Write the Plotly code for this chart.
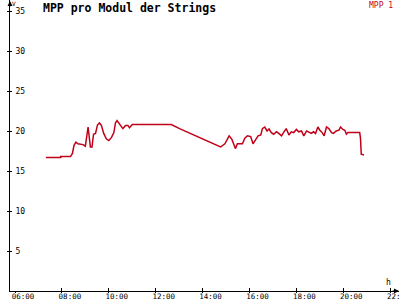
import plotly.graph_objects as go

day = "2024-06-01 "
times = ["07:19", "07:57", "07:57", "08:22", "08:27", "08:31", "08:36", "08:41", "08:54", "09:00",
         "09:07", "09:13", "09:17", "09:21", "09:26", "09:31", "09:36", "09:41", "09:47", "09:54",
         "10:00", "10:07", "10:13", "10:17", "10:21", "10:28", "10:36", "10:43", "10:49", "10:53",
         "11:00", "12:40", "12:53", "13:01", "14:46", "14:57", "15:08", "15:15", "15:24", "15:29",
         "15:42", "15:48", "15:55", "16:03", "16:09", "16:16", "16:22", "16:29", "16:33", "16:39",
         "16:45", "16:50", "16:56", "17:02", "17:09", "17:15", "17:22", "17:27", "17:34", "17:41",
         "17:47", "17:53", "18:00", "18:06", "18:13", "18:19", "18:26", "18:31", "18:38", "18:44",
         "18:49", "18:55", "19:00", "19:06", "19:11", "19:17", "19:23", "19:30", "19:35", "19:42",
         "19:49", "19:53", "19:59", "20:04", "20:08", "20:12", "20:42", "20:44", "20:46", "20:53"]
values = [16.7, 16.7, 16.8, 16.8, 17.2, 18.2, 18.6, 18.4, 18.3, 18.1,
          20.5, 18.0, 18.0, 19.6, 19.7, 20.75, 21.0, 20.7, 19.7, 19.0,
          18.8, 19.2, 19.8, 21.0, 21.3, 20.9, 20.3, 20.7, 20.7, 20.4,
          20.8, 20.8, 20.5, 20.3, 18.0, 18.4, 19.4, 18.95, 17.8, 18.4,
          18.4, 19.1, 19.4, 19.3, 18.4, 18.95, 19.4, 19.5, 20.3, 20.5,
          20.0, 20.25, 19.8, 19.6, 19.9, 19.7, 19.4, 19.8, 20.3, 19.5,
          19.9, 19.8, 20.2, 19.9, 20.0, 19.4, 20.0, 19.9, 19.7, 19.9,
          19.7, 20.5, 20.1, 19.8, 19.4, 20.5, 20.3, 19.8, 19.7, 20.0,
          20.1, 20.5, 20.2, 20.1, 19.6, 19.8, 19.8, 19.1, 17.1, 17.0]
series_name = "MPP 1"
title_text = "MPP pro Modul der Strings"
y_unit = "V"
x_unit = "h"
y_ticks = [5, 10, 15, 20, 25, 30, 35]
x_tick_labels = ["06:00", "08:00", "10:00", "12:00", "14:00", "16:00", "18:00", "20:00", "22:00"]

x = [day + t for t in times]
x_tickvals = [day + t for t in x_tick_labels]
red = "#c00018"
mono = "DejaVu Sans Mono"
x_range = [day + "05:47:13", day + "22:22:34"]
y_range = [0, 36.375]
tf = dict(family=mono, size=8, color="black")

fig = go.Figure()
fig.add_trace(go.Scatter(x=x, y=values, mode="lines", name=series_name,
                         line=dict(color=red, width=1.5), showlegend=False))

fig.update_layout(
    width=400, height=300,
    margin=dict(l=10, r=1, t=0, b=9),
    paper_bgcolor="white", plot_bgcolor="white",
    font=dict(family=mono, size=8, color="black"),
    xaxis=dict(
        type="date", range=x_range, tickvals=x_tickvals, ticktext=x_tick_labels,
        showgrid=False, zeroline=False, showline=True, linecolor="black", linewidth=1,
        ticks="outside", ticklen=1, tickcolor="black", tickwidth=1,
        ticklabelshift=8, ticklabelstandoff=-3, ticklabeloverflow="allow",
        automargin=False, tickfont=dict(family=mono, size=7.5, color="black"),
    ),
    yaxis=dict(
        range=y_range, tickvals=y_ticks,
        showgrid=False, zeroline=False, showline=True, linecolor="black", linewidth=1,
        ticks="outside", ticklen=2, tickcolor="black", tickwidth=1,
        showticklabels=False, automargin=False,
    ),
    xaxis2=dict(
        type="date", range=x_range, tickvals=x_tickvals, overlaying="x",
        showgrid=False, zeroline=False, showline=False, showticklabels=False,
        ticks="inside", ticklen=3, tickcolor="black", tickwidth=1, automargin=False,
    ),
    yaxis2=dict(
        range=y_range, tickvals=y_ticks, overlaying="y",
        showgrid=False, zeroline=False, showline=False,
        ticks="inside", ticklen=2, tickcolor="black", tickwidth=1,
        ticklabelposition="inside", ticklabelstandoff=2, automargin=False,
        tickfont=tf,
    ),
)
# invisible trace to bind the overlay axes
fig.add_trace(go.Scatter(x=x, y=values, mode="lines", xaxis="x2", yaxis="y2",
                         line=dict(width=0), hoverinfo="skip", showlegend=False,
                         opacity=0))

fig.add_annotation(xref="paper", yref="paper", x=0.08, y=1.0, yshift=-8,
                   text="<b>" + title_text + "</b>", showarrow=False,
                   xanchor="left", yanchor="middle",
                   font=dict(family=mono, size=11.5, color="black"))
fig.add_annotation(xref="paper", yref="paper", x=1.0, y=1.0, xshift=-4, yshift=-5,
                   text=series_name, showarrow=False, xanchor="right", yanchor="middle",
                   font=dict(family=mono, size=8, color=red))
fig.add_annotation(xref="paper", yref="paper", x=0, y=1.0, xshift=4, yshift=-3,
                   text=y_unit, showarrow=False, xanchor="center", yanchor="middle",
                   font=dict(family=mono, size=6, color="black"))
fig.add_annotation(xref="paper", yref="paper", x=1.0, y=0, xshift=-11, yshift=9,
                   text=x_unit, showarrow=False, xanchor="center", yanchor="middle",
                   font=dict(family=mono, size=8, color="black"))
# axis arrowheads
fig.add_annotation(xref="paper", yref="paper", x=0, y=1.0, ax=0, ay=8,
                   text="", showarrow=True, arrowhead=2, arrowsize=1, arrowwidth=1,
                   arrowcolor="black", standoff=0)
fig.add_annotation(xref="paper", yref="paper", x=1.0, y=0, ax=-8, ay=0,
                   text="", showarrow=True, arrowhead=2, arrowsize=1, arrowwidth=1,
                   arrowcolor="black", standoff=0)

fig.write_html("out.html")
